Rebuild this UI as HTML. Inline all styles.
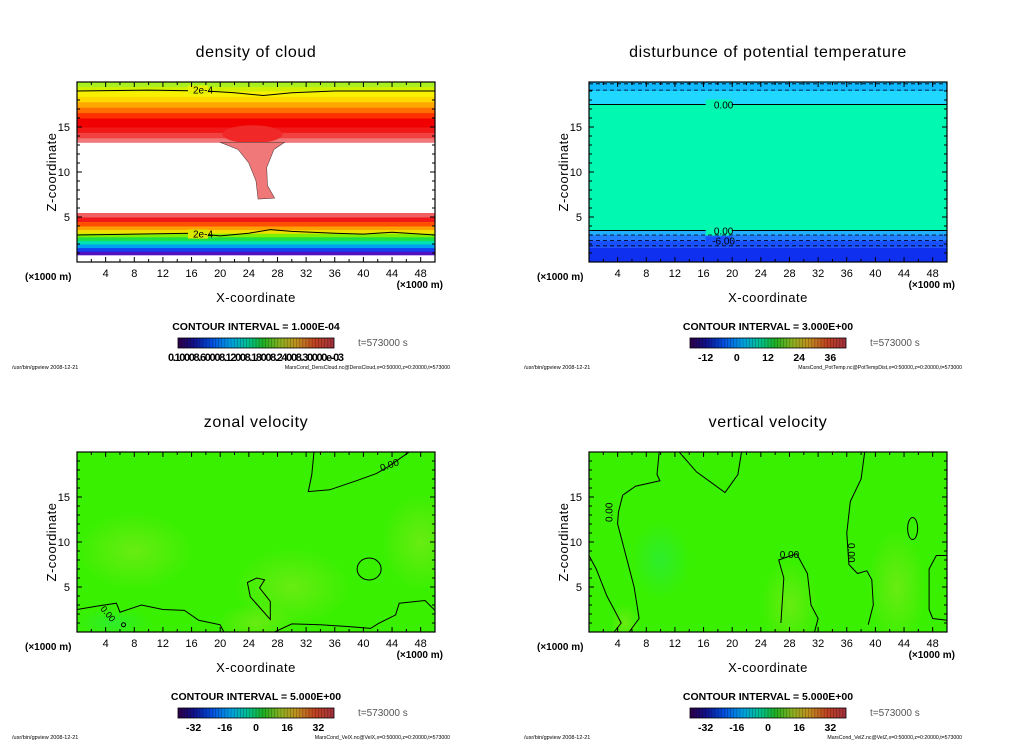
<!DOCTYPE html>
<html><head><meta charset="utf-8"><style>
html,body{margin:0;padding:0;background:#fff;}
svg{display:block;font-family:"Liberation Sans","DejaVu Sans",sans-serif;}
</style></head><body>
<svg id="fig" width="1024" height="740" viewBox="0 0 1024 740" xmlns="http://www.w3.org/2000/svg">
<defs>
<linearGradient id="rainbow" x1="0" x2="1" y1="0" y2="0">
<stop offset="0" stop-color="#300048"/><stop offset="0.1" stop-color="#10108a"/><stop offset="0.22" stop-color="#0050e0"/><stop offset="0.34" stop-color="#00a0e0"/><stop offset="0.45" stop-color="#00c090"/><stop offset="0.55" stop-color="#20b020"/><stop offset="0.66" stop-color="#90b020"/><stop offset="0.76" stop-color="#c09020"/><stop offset="0.88" stop-color="#c04020"/><stop offset="1" stop-color="#a03040"/>
</linearGradient>
<radialGradient id="yg" cx="0.5" cy="0.5" r="0.5"><stop offset="0" stop-color="#90e820" stop-opacity="0.55"/><stop offset="1" stop-color="#90e820" stop-opacity="0"/></radialGradient>
<radialGradient id="cg" cx="0.5" cy="0.5" r="0.5"><stop offset="0" stop-color="#20e870" stop-opacity="0.4"/><stop offset="1" stop-color="#20e870" stop-opacity="0"/></radialGradient>
</defs>
</svg>
<script>
// ---- data ----
const xTicks = [4,8,12,16,20,24,28,32,36,40,44,48];
const zTicks = [5,10,15];
const titles = ["density of cloud","disturbunce of potential temperature","zonal velocity","vertical velocity"];
const intervals = ["CONTOUR INTERVAL = 1.000E-04","CONTOUR INTERVAL = 3.000E+00","CONTOUR INTERVAL = 5.000E+00","CONTOUR INTERVAL = 5.000E+00"];
const cbarLabels1 = ["0.10008.60008.12008.18008.24008.30000e-03"];
const cbarTicks2 = [-12,0,12,24,36];
const cbarTicks34 = [-32,-16,0,16,32];
const footers = ["MarsCond_DensCloud.nc@DensCloud,x=0:50000,z=0:20000,t=573000","MarsCond_PotTemp.nc@PotTempDist,x=0:50000,z=0:20000,t=573000","MarsCond_VelX.nc@VelX,x=0:50000,z=0:20000,t=573000","MarsCond_VelZ.nc@VelZ,x=0:50000,z=0:20000,t=573000"];
// density bands
const densBandLow  = [0,0.8,1.2,1.6,2.0,2.4,2.8,3.2,3.6,4.0,4.5,5.0,5.5,13.3,13.8,14.4,15.0,16.0,16.6,17.2,17.8,18.4,19.0,19.5];
const densBandHigh = [0.8,1.2,1.6,2.0,2.4,2.8,3.2,3.6,4.0,4.5,5.0,5.5,13.3,13.8,14.4,15.0,16.0,16.6,17.2,17.8,18.4,19.0,19.5,20];
const densBandColor= ["#ffffff","#5010c0","#1040f0","#00a0f0","#00e0b0","#20e040","#80f000","#f0e000","#ffa000","#ff5000","#f01818","#f06060","#ffffff","#f07878","#f04040","#f01818","#f00000","#ff3000","#ff7000","#ffa800","#ffd800","#f8f000","#d0f000","#a8f020"];
const tongueX = [20,22.5,24,25,25.3,27.6,26.6,26.5,27.5,29,29];
const tongueZ = [13.3,12.5,11,9,7,7.1,8.5,10.5,12.5,13.3,13.3];
const densTopLineX = [0,10,18,22,26,30,36,50];
const densTopLineZ = [19.0,19.1,19.0,18.8,18.5,18.8,19.0,19.0];
const densBotLineX = [0,8,16,20,24,27,30,36,40,44,50];
const densBotLineZ = [3.0,3.1,3.2,2.9,3.2,3.6,3.4,3.2,3.1,3.3,3.0];
// potential temperature bands
const ptBandLow  = [0,1.6,2.4,3.0,3.5,17.5,19.0];
const ptBandHigh = [1.6,2.4,3.0,3.5,17.5,19.0,20];
const ptBandColor= ["#1030f0","#1850ff","#2080ff","#20b0ff","#00f8b0","#20d8ff","#10b8ff"];
const ptSolidZ = [17.5,3.5];
const ptDashedZ = [19.8,19.1,3.0,2.4,1.8];
// zonal velocity contours
const zonalUpperX = [33.1,32.8,32.3,35.3,39,41.8,43.5,46.4];
const zonalUpperZ = [20,17.5,15.6,15.8,16.8,17.6,18.4,20];
const zonalBlobX = [23.8,25.1,26.2,25.5,27,27,24.2];
const zonalBlobZ = [5.5,6.0,5.8,4.9,3.4,1.4,3.9];
const zonalBotX = [0,3,5.5,6,9,12,15,17,20,20.5];
const zonalBotZ = [2.5,2.9,3.2,2.2,3.0,2.5,2.4,1.3,0.8,0];
const zonalRightX = [27.6,30,34,38,41,42,44.5,45,48.6,50];
const zonalRightZ = [0,0.9,0.8,0.6,0.4,0.9,1.9,3.2,3.5,2.4];
const zonalLoopCenter = [40.8,7.0];
// vertical velocity contours
const vA_X = [9.8,9.5,9.9,6.5,4.7,4.1,4,4.5,6.3,6.7,7,5.6];
const vA_Z = [20,17.5,16.8,16.2,15.2,13.3,12,10.5,5,3,1.5,0];
const vB_X = [12.6,15,19,20.8,21.3];
const vB_Z = [20,17.8,15.5,17.5,20];
const vC_X = [38.5,38,36.5,36,36.3,37.5,38.8,39.5,39.7,39];
const vC_Z = [20,17,14.5,11,7.5,6.5,6.8,5.8,3,0.8];
const vD_X = [26.8,27.2,26.5,29,30.5,31,32,31.5];
const vD_Z = [1,6,8,8.7,6.5,3,1.5,0];
const vE_X = [50,48.5,47.5,47.5,48,50];
const vE_Z = [8.5,8.5,7,2.5,1.5,1.3];
const vF_X = [0,1,2.5,3.5,4.5,3.5];
const vF_Z = [8.5,7,4,2.5,1,0];
const vLoop = [45.2,11.5];
const cbarColumns = 50;

// ---- helpers ----
const svg = document.getElementById('fig');
const NS = 'http://www.w3.org/2000/svg';
function mk(tag, attrs, parent){ const e=document.createElementNS(NS,tag); for(const k in attrs) e.setAttribute(k,attrs[k]); (parent||svg).appendChild(e); return e; }
function txt(x,y,s,size,anchor,parent,extra){ const t=mk('text',Object.assign({x:x,y:y,'font-size':size,'text-anchor':anchor||'start',fill:'#000'},extra||{}),parent); t.textContent=s; return t; }
const W=358, H=180;
const origins=[[77,82],[589,82],[77,452],[589,452]];
function sx(o,x){return o[0]+x/50*W;}
function sz(o,z){return o[1]+H-z/20*H;}
function pathFrom(o,xs,zs,close){ let d=''; for(let i=0;i<xs.length;i++){ d+=(i?'L':'M')+sx(o,xs[i]).toFixed(1)+' '+sz(o,zs[i]).toFixed(1);} return d+(close?'Z':''); }

origins.forEach((o,pi)=>{
  const g = mk('g',{});
  
  
  const cx = o[0]+179;
  const t = txt(cx,o[1]-25,titles[pi],16,'middle',g,{'letter-spacing':'0.6'});
  
  
  const clipId='clip'+pi;
  const cp=mk('clipPath',{id:clipId},g); mk('rect',{x:o[0],y:o[1],width:W,height:H},cp);
  const plot = mk('g',{'clip-path':'url(#'+clipId+')'},g);
  
  
  if(pi===0){
    for(let i=0;i<densBandLow.length;i++){
      const r=mk('rect',{x:o[0],y:sz(o,densBandHigh[i]),width:W,height:sz(o,densBandLow[i])-sz(o,densBandHigh[i])+0.5,fill:densBandColor[i]},plot);
      
      
    }
    mk('ellipse',{cx:sx(o,24.5),cy:sz(o,14.2),rx:30,ry:9,fill:'#f02828'},plot);
    const tg=mk('path',{d:pathFrom(o,tongueX,tongueZ,true),fill:'#f07878',stroke:'#604040','stroke-width':0.6},plot);
    
    
    mk('path',{d:pathFrom(o,densTopLineX,densTopLineZ),fill:'none',stroke:'#000','stroke-width':1},plot);
    mk('path',{d:pathFrom(o,densBotLineX,densBotLineZ),fill:'none',stroke:'#000','stroke-width':1},plot);
    mk('rect',{x:sx(o,15.5),y:sz(o,19.6),width:20,height:9,fill:'#e8f000'},plot);
    txt(sx(o,17.6),sz(o,18.75),'2e-4',10,'middle',plot);
    mk('rect',{x:sx(o,15.5),y:sz(o,3.6),width:20,height:9,fill:'#d8e800'},plot);
    txt(sx(o,17.6),sz(o,2.7),'2e-4',10,'middle',plot);
  } else if(pi===1){
    for(let i=0;i<ptBandLow.length;i++){
      const r=mk('rect',{x:o[0],y:sz(o,ptBandHigh[i]),width:W,height:sz(o,ptBandLow[i])-sz(o,ptBandHigh[i]),fill:ptBandColor[i]},plot);
      
      
    }
    ptSolidZ.forEach(z=>{ const l=mk('line',{x1:o[0],x2:o[0]+W,y1:sz(o,z),y2:sz(o,z),stroke:'#000','stroke-width':1},plot);
       
      mk('rect',{x:sx(o,16.3),y:sz(o,z)-5,width:26,height:10,fill:'#00f8b0'},plot);
      txt(sx(o,18.8),sz(o,z)+4,'0.00',10,'middle',plot); });
    ptDashedZ.forEach(z=>{ const l=mk('line',{x1:o[0],x2:o[0]+W,y1:sz(o,z),y2:sz(o,z),stroke:'#000','stroke-width':0.8,'stroke-dasharray':'4 3'},plot);
        });
    mk('rect',{x:sx(o,16.3),y:sz(o,2.4)-4,width:26,height:8,fill:'#1850ff'},plot);
    txt(sx(o,18.8),sz(o,2.4)+4,'-6.00',10,'middle',plot);
  } else {
    const bg=mk('rect',{x:o[0],y:o[1],width:W,height:H,fill:'#38f000'},plot);
    
    
    const blobs = pi===2 ? [[8,9,60,40,'yg'],[30,5,60,40,'yg'],[48,10,40,50,'yg'],[25,1,40,20,'yg'],[5,1,40,15,'cg']] : [[28,3,30,45,'yg'],[43,5,30,60,'yg'],[10,8,30,40,'cg'],[5,1,15,20,'yg']];
    blobs.forEach(b=>mk('ellipse',{cx:sx(o,b[0]),cy:sz(o,b[1]),rx:b[2],ry:b[3],fill:'url(#'+b[4]+')'},plot));
    const st={fill:'none',stroke:'#000','stroke-width':1};
    if(pi===2){
      [[zonalUpperX,zonalUpperZ],[zonalBotX,zonalBotZ],[zonalRightX,zonalRightZ]].forEach(p=>{ const e=mk('path',Object.assign({d:pathFrom(o,p[0],p[1])},st),plot);   });
      const bl=mk('path',Object.assign({d:pathFrom(o,zonalBlobX,zonalBlobZ,true)},st),plot);
       
      mk('ellipse',Object.assign({cx:sx(o,zonalLoopCenter[0]),cy:sz(o,zonalLoopCenter[1]),rx:12,ry:11},st),plot);
      mk('circle',Object.assign({cx:sx(o,6.5),cy:sz(o,0.8),r:2},st),plot);
      txt(sx(o,43.8),sz(o,18.2),'0.00',10,'middle',plot,{transform:'rotate(-20 '+sx(o,43.8)+' '+sz(o,18.2)+')'});
      txt(sx(o,4),sz(o,1.8),'0.00',9,'middle',plot,{transform:'rotate(50 '+sx(o,4)+' '+sz(o,1.8)+')'});
    } else {
      [[vA_X,vA_Z],[vB_X,vB_Z],[vC_X,vC_Z],[vD_X,vD_Z],[vE_X,vE_Z],[vF_X,vF_Z]].forEach(p=>{ const e=mk('path',Object.assign({d:pathFrom(o,p[0],p[1])},st),plot);   });
      mk('ellipse',Object.assign({cx:sx(o,vLoop[0]),cy:sz(o,vLoop[1]),rx:5,ry:11},st),plot);
      txt(sx(o,3.3),sz(o,13.3),'0.00',10,'middle',plot,{transform:'rotate(-90 '+sx(o,3.3)+' '+sz(o,13.3)+')'});
      txt(sx(o,36.2),sz(o,8.8),'0.00',10,'middle',plot,{transform:'rotate(90 '+sx(o,36.2)+' '+sz(o,8.8)+')'});
      txt(sx(o,28),sz(o,8.2),'0.00',10,'middle',plot);
    }
  }
  const fr=mk('rect',{x:o[0],y:o[1],width:W,height:H,fill:'none',stroke:'#000','stroke-width':1.2},g);
   
  for(let x=2;x<50;x+=2){ const L=(x%4===0)?5:3; mk('line',{x1:sx(o,x),x2:sx(o,x),y1:o[1]+H,y2:o[1]+H-L,stroke:'#000'},g); mk('line',{x1:sx(o,x),x2:sx(o,x),y1:o[1],y2:o[1]+L,stroke:'#000'},g); }
  for(let z=1;z<20;z++){ const L=(z%5===0)?5:3; mk('line',{x1:o[0],x2:o[0]+L,y1:sz(o,z),y2:sz(o,z),stroke:'#000'},g); mk('line',{x1:o[0]+W,x2:o[0]+W-L,y1:sz(o,z),y2:sz(o,z),stroke:'#000'},g); }
  xTicks.forEach(v=>{ const e=txt(sx(o,v),o[1]+H+15,String(v),11,'middle',g);   });
  zTicks.forEach(v=>{ const e=txt(o[0]-7,sz(o,v)+4,String(v),11,'end',g);   });
  txt(o[0]-52,o[1]+H+18,'(×1000 m)',10,'start',g,{'font-weight':'bold'});
  txt(o[0]+W+8,o[1]+H+26,'(×1000 m)',10,'end',g,{'font-weight':'bold'});
  const xt=txt(cx,o[1]+H+40,'X-coordinate',13,'middle',g,{'letter-spacing':'0.5'});
   
  const yt=txt(0,0,'Z-coordinate',13,'middle',g,{transform:'translate('+(o[0]-21)+','+(o[1]+90)+') rotate(-90)','letter-spacing':'0.5'});
   
  const ci=txt(cx,o[1]+248,intervals[pi],10.5,'middle',g,{'font-weight':'bold'});
   
  const cb=mk('g',{},g);
   
  const bx=o[0]+101, by=o[1]+256, bw=156, bh=10;
  mk('rect',{x:bx,y:by,width:bw,height:bh,fill:'url(#rainbow)'},cb);
  for(let i=1;i<cbarColumns;i++) mk('line',{x1:bx+i*bw/cbarColumns,x2:bx+i*bw/cbarColumns,y1:by,y2:by+bh,stroke:'rgba(0,0,0,0.3)','stroke-width':0.7},cb);
  mk('rect',{x:bx,y:by,width:bw,height:bh,fill:'none',stroke:'#000','stroke-width':0.8},cb);
  if(pi===0){ txt(bx+bw/2,by+23,cbarLabels1[0],11,'middle',cb,{textLength:bw+20,'font-weight':'bold'}); }
  else { const ticks = pi===1?cbarTicks2:cbarTicks34; const lo = pi===1?-18:-40, hi = pi===1?42:40;
    ticks.forEach(v=>{ const e=txt(bx+(v-lo)/(hi-lo)*bw,by+23,String(v),10.5,'middle',cb,{'font-weight':'bold'});   }); }
  txt(o[0]+281,o[1]+264,'t=573000 s',10,'start',g,{fill:'#555'});
  txt(o[0]-65,o[1]+287,'/usr/bin/gpview   2008-12-21',5.5,'start',g);
  txt(o[0]+373,o[1]+287,footers[pi],5.2,'end',g);
});
</script>
</body></html>
